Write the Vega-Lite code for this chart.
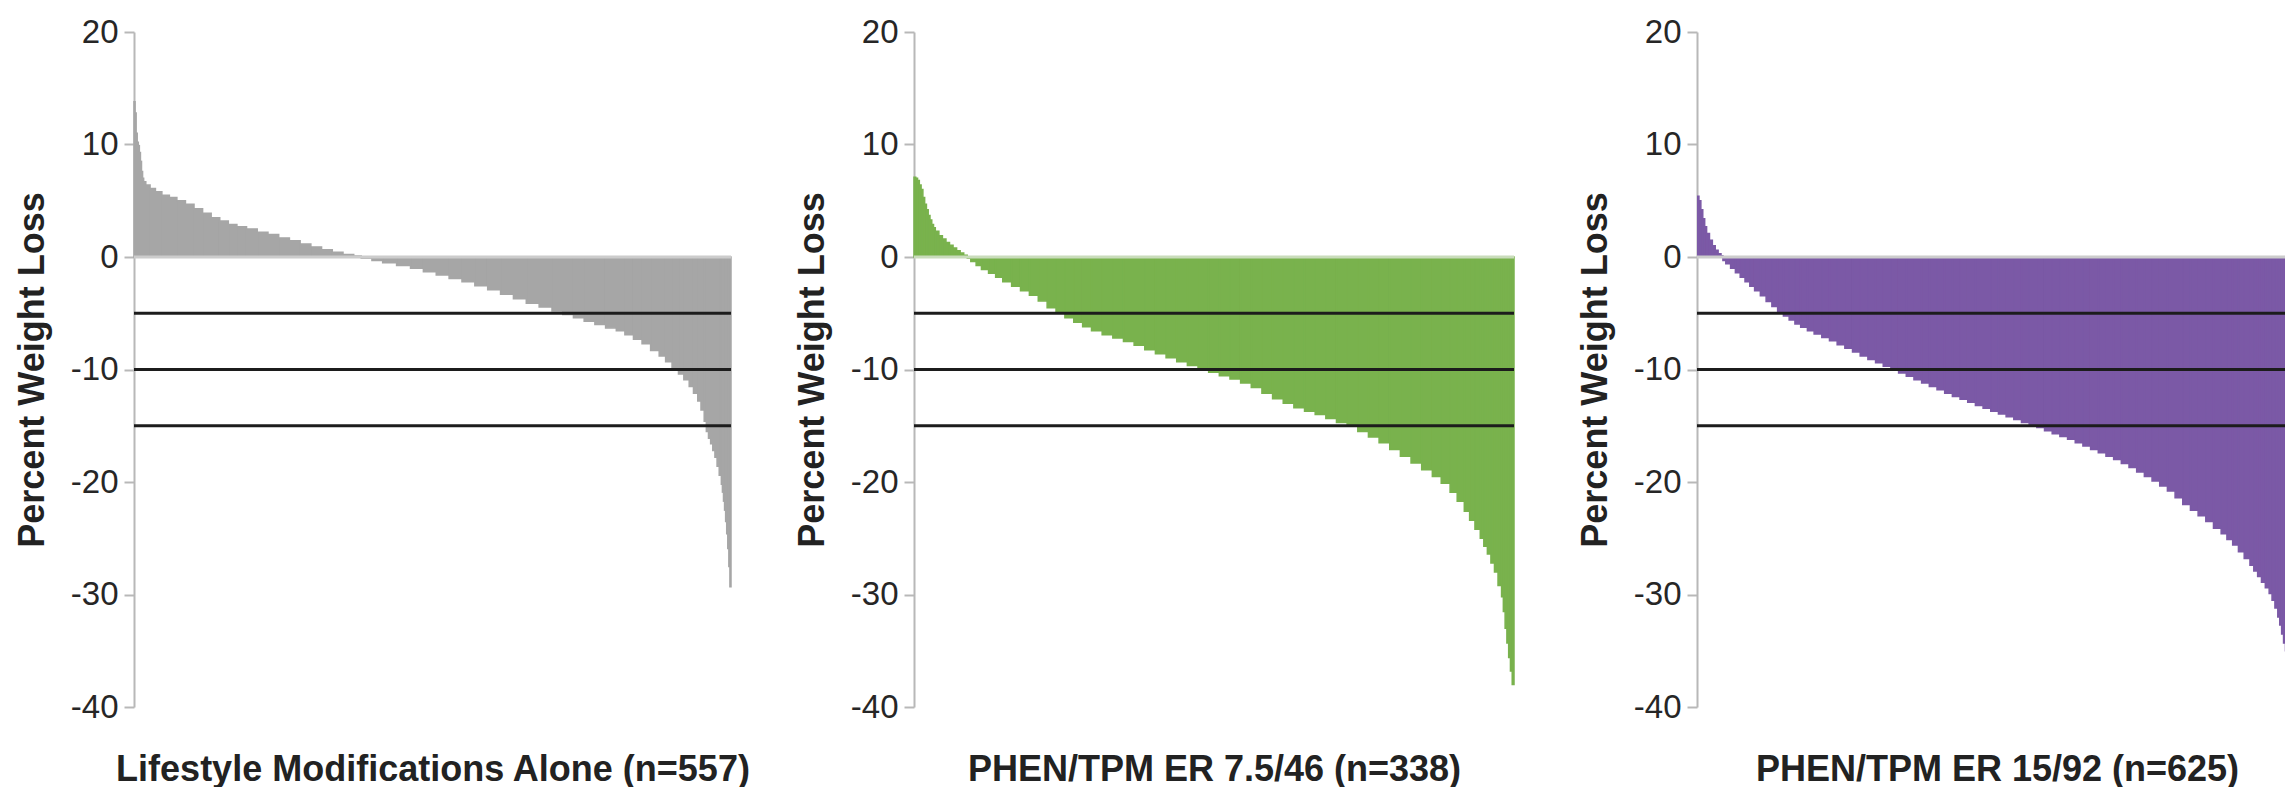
{
  "$schema": "https://vega.github.io/schema/vega-lite/v6.json",
  "background": "white",
  "padding": {"left": 14, "top": 16, "right": 0, "bottom": 0},
  "bounds": "flush",
  "spacing": 183,
  "config": {
    "view": {"stroke": null},
    "font": "Liberation Sans",
    "axisY": {
      "grid": false,
      "labelExpr": "'' + datum.value",
      "domainColor": "#b8b8b8",
      "domainWidth": 2,
      "tickColor": "#b8b8b8",
      "tickWidth": 2,
      "tickSize": 10,
      "labelFont": "Liberation Sans",
      "labelFontSize": 33,
      "labelColor": "#262626",
      "labelPadding": 6,
      "titleFont": "Liberation Sans",
      "titleFontSize": 36,
      "titleFontWeight": "bold",
      "titleColor": "#222222",
      "titlePadding": 19
    },
    "axisX": {
      "grid": false,
      "domain": false,
      "ticks": false,
      "labels": false,
      "titleFont": "Liberation Sans",
      "titleFontSize": 36,
      "titleFontWeight": "bold",
      "titleColor": "#222222",
      "titlePadding": 45
    }
  },
  "datasets": {
    "lifestyle": [
      {"a":0,"b":1,"v":13.8},{"a":1,"b":2,"v":12.8},{"a":2,"b":3,"v":11},{"a":3,"b":4,"v":10.2},{"a":4,"b":5,"v":9.9},
      {"a":5,"b":6,"v":9.3},{"a":6,"b":7,"v":8.5},{"a":7,"b":8,"v":7.6},{"a":8,"b":9,"v":7.0},{"a":9,"b":11,"v":6.7},
      {"a":11,"b":15,"v":6.4},{"a":15,"b":20,"v":6.1},{"a":20,"b":26,"v":5.8},{"a":26,"b":33,"v":5.5},{"a":33,"b":40,"v":5.3},
      {"a":40,"b":48,"v":5.0},{"a":48,"b":56,"v":4.7},{"a":56,"b":64,"v":4.3},{"a":64,"b":72,"v":3.9},{"a":72,"b":80,"v":3.5},
      {"a":80,"b":88,"v":3.2},{"a":88,"b":96,"v":2.9},{"a":96,"b":105,"v":2.7},{"a":105,"b":115,"v":2.5},{"a":115,"b":125,"v":2.2},
      {"a":125,"b":135,"v":2.0},{"a":135,"b":145,"v":1.7},{"a":145,"b":155,"v":1.45},{"a":155,"b":165,"v":1.15},{"a":165,"b":175,"v":0.9},
      {"a":175,"b":185,"v":0.65},{"a":185,"b":195,"v":0.42},{"a":195,"b":205,"v":0.22},{"a":205,"b":212,"v":0.08},{"a":212,"b":222,"v":-0.1},
      {"a":222,"b":232,"v":-0.3},{"a":232,"b":245,"v":-0.5},{"a":245,"b":258,"v":-0.75},{"a":258,"b":270,"v":-1.0},{"a":270,"b":282,"v":-1.3},
      {"a":282,"b":294,"v":-1.6},{"a":294,"b":306,"v":-1.9},{"a":306,"b":318,"v":-2.2},{"a":318,"b":330,"v":-2.55},{"a":330,"b":342,"v":-2.9},
      {"a":342,"b":354,"v":-3.3},{"a":354,"b":366,"v":-3.7},{"a":366,"b":378,"v":-4.1},{"a":378,"b":390,"v":-4.45},{"a":390,"b":400,"v":-4.8},
      {"a":400,"b":410,"v":-5.1},{"a":410,"b":420,"v":-5.4},{"a":420,"b":430,"v":-5.7},{"a":430,"b":440,"v":-6.0},{"a":440,"b":450,"v":-6.3},
      {"a":450,"b":458,"v":-6.55},{"a":458,"b":466,"v":-6.9},{"a":466,"b":474,"v":-7.3},{"a":474,"b":482,"v":-7.7},{"a":482,"b":490,"v":-8.3},
      {"a":490,"b":496,"v":-8.8},{"a":496,"b":502,"v":-9.3},{"a":502,"b":508,"v":-9.9},{"a":508,"b":513,"v":-10.4},{"a":513,"b":518,"v":-10.9},
      {"a":518,"b":522,"v":-11.5},{"a":522,"b":526,"v":-12.1},{"a":526,"b":529,"v":-12.8},{"a":529,"b":532,"v":-13.6},{"a":532,"b":534,"v":-14.6},
      {"a":534,"b":536,"v":-15.5},{"a":536,"b":538,"v":-16.1},{"a":538,"b":540,"v":-16.6},{"a":540,"b":542,"v":-17.2},{"a":542,"b":544,"v":-17.8},
      {"a":544,"b":546,"v":-18.6},{"a":546,"b":548,"v":-19.4},{"a":548,"b":549,"v":-20.2},{"a":549,"b":550,"v":-20.9},{"a":550,"b":551,"v":-21.7},
      {"a":551,"b":552,"v":-22.5},{"a":552,"b":553,"v":-23.5},{"a":553,"b":554,"v":-24.6},{"a":554,"b":555,"v":-25.9},{"a":555,"b":556,"v":-27.5},
      {"a":556,"b":557,"v":-29.3}
    ],
    "low": [
      {"a":0,"b":1,"v":7.1},{"a":1,"b":2,"v":7.0},{"a":2,"b":3,"v":6.8},{"a":3,"b":4,"v":6.4},{"a":4,"b":5,"v":6.0},
      {"a":5,"b":6,"v":5.3},{"a":6,"b":7,"v":4.7},{"a":7,"b":8,"v":4.2},{"a":8,"b":9,"v":3.7},{"a":9,"b":10,"v":3.3},
      {"a":10,"b":11,"v":2.9},{"a":11,"b":12,"v":2.6},{"a":12,"b":14,"v":2.3},{"a":14,"b":16,"v":1.9},{"a":16,"b":18,"v":1.6},
      {"a":18,"b":20,"v":1.3},{"a":20,"b":22,"v":1.05},{"a":22,"b":24,"v":0.8},{"a":24,"b":26,"v":0.55},{"a":26,"b":28,"v":0.35},
      {"a":28,"b":30,"v":0.15},{"a":30,"b":32,"v":-0.1},{"a":32,"b":35,"v":-0.4},{"a":35,"b":38,"v":-0.75},{"a":38,"b":42,"v":-1.1},
      {"a":42,"b":46,"v":-1.45},{"a":46,"b":50,"v":-1.8},{"a":50,"b":55,"v":-2.2},{"a":55,"b":60,"v":-2.6},{"a":60,"b":65,"v":-3.0},
      {"a":65,"b":70,"v":-3.4},{"a":70,"b":75,"v":-3.9},{"a":75,"b":80,"v":-4.5},{"a":80,"b":85,"v":-4.95},{"a":85,"b":90,"v":-5.4},
      {"a":90,"b":95,"v":-5.8},{"a":95,"b":100,"v":-6.2},{"a":100,"b":106,"v":-6.55},{"a":106,"b":112,"v":-6.9},{"a":112,"b":118,"v":-7.2},
      {"a":118,"b":124,"v":-7.5},{"a":124,"b":130,"v":-7.85},{"a":130,"b":136,"v":-8.25},{"a":136,"b":142,"v":-8.6},{"a":142,"b":148,"v":-8.95},
      {"a":148,"b":154,"v":-9.3},{"a":154,"b":160,"v":-9.65},{"a":160,"b":166,"v":-9.95},{"a":166,"b":172,"v":-10.25},{"a":172,"b":178,"v":-10.55},
      {"a":178,"b":184,"v":-10.85},{"a":184,"b":190,"v":-11.2},{"a":190,"b":196,"v":-11.6},{"a":196,"b":202,"v":-12.1},{"a":202,"b":208,"v":-12.6},
      {"a":208,"b":214,"v":-13.0},{"a":214,"b":220,"v":-13.4},{"a":220,"b":226,"v":-13.7},{"a":226,"b":232,"v":-14.0},{"a":232,"b":238,"v":-14.35},
      {"a":238,"b":244,"v":-14.7},{"a":244,"b":250,"v":-15.05},{"a":250,"b":256,"v":-15.5},{"a":256,"b":262,"v":-16.0},{"a":262,"b":268,"v":-16.5},
      {"a":268,"b":274,"v":-17.1},{"a":274,"b":280,"v":-17.7},{"a":280,"b":286,"v":-18.3},{"a":286,"b":292,"v":-18.9},{"a":292,"b":297,"v":-19.5},
      {"a":297,"b":302,"v":-20.1},{"a":302,"b":306,"v":-20.9},{"a":306,"b":310,"v":-21.7},{"a":310,"b":313,"v":-22.6},{"a":313,"b":316,"v":-23.4},
      {"a":316,"b":319,"v":-24.2},{"a":319,"b":321,"v":-25.0},{"a":321,"b":323,"v":-25.7},{"a":323,"b":325,"v":-26.4},{"a":325,"b":327,"v":-27.2},
      {"a":327,"b":329,"v":-28.0},{"a":329,"b":331,"v":-29.2},{"a":331,"b":332,"v":-30.2},{"a":332,"b":333,"v":-31.5},{"a":333,"b":334,"v":-33.0},
      {"a":334,"b":335,"v":-34.3},{"a":335,"b":336,"v":-35.6},{"a":336,"b":337,"v":-36.8},{"a":337,"b":338,"v":-38.0}
    ],
    "high": [
      {"a":0,"b":2,"v":5.4},{"a":2,"b":4,"v":5.0},{"a":4,"b":6,"v":4.2},{"a":6,"b":8,"v":3.4},{"a":8,"b":10,"v":2.7},
      {"a":10,"b":13,"v":2.1},{"a":13,"b":16,"v":1.5},{"a":16,"b":19,"v":1.0},{"a":19,"b":22,"v":0.6},{"a":22,"b":25,"v":0.3},
      {"a":25,"b":27,"v":0.1},{"a":27,"b":30,"v":-0.3},{"a":30,"b":35,"v":-0.6},{"a":35,"b":40,"v":-1.0},{"a":40,"b":45,"v":-1.4},
      {"a":45,"b":50,"v":-1.8},{"a":50,"b":55,"v":-2.2},{"a":55,"b":60,"v":-2.6},{"a":60,"b":66,"v":-3.0},{"a":66,"b":72,"v":-3.45},
      {"a":72,"b":78,"v":-3.95},{"a":78,"b":84,"v":-4.4},{"a":84,"b":90,"v":-4.85},{"a":90,"b":96,"v":-5.25},{"a":96,"b":102,"v":-5.6},
      {"a":102,"b":108,"v":-5.95},{"a":108,"b":115,"v":-6.25},{"a":115,"b":122,"v":-6.55},{"a":122,"b":130,"v":-6.85},{"a":130,"b":138,"v":-7.15},
      {"a":138,"b":146,"v":-7.45},{"a":146,"b":154,"v":-7.8},{"a":154,"b":162,"v":-8.1},{"a":162,"b":170,"v":-8.45},{"a":170,"b":178,"v":-8.8},
      {"a":178,"b":186,"v":-9.1},{"a":186,"b":194,"v":-9.4},{"a":194,"b":202,"v":-9.7},{"a":202,"b":210,"v":-10.0},{"a":210,"b":218,"v":-10.3},
      {"a":218,"b":226,"v":-10.6},{"a":226,"b":234,"v":-10.9},{"a":234,"b":242,"v":-11.2},{"a":242,"b":250,"v":-11.5},{"a":250,"b":258,"v":-11.8},
      {"a":258,"b":266,"v":-12.1},{"a":266,"b":274,"v":-12.4},{"a":274,"b":282,"v":-12.65},{"a":282,"b":290,"v":-12.9},{"a":290,"b":298,"v":-13.2},
      {"a":298,"b":306,"v":-13.45},{"a":306,"b":314,"v":-13.7},{"a":314,"b":322,"v":-13.95},{"a":322,"b":330,"v":-14.2},{"a":330,"b":338,"v":-14.45},
      {"a":338,"b":346,"v":-14.7},{"a":346,"b":354,"v":-14.9},{"a":354,"b":362,"v":-15.15},{"a":362,"b":370,"v":-15.45},{"a":370,"b":378,"v":-15.7},
      {"a":378,"b":386,"v":-15.95},{"a":386,"b":394,"v":-16.2},{"a":394,"b":402,"v":-16.5},{"a":402,"b":410,"v":-16.8},{"a":410,"b":418,"v":-17.1},
      {"a":418,"b":426,"v":-17.4},{"a":426,"b":434,"v":-17.7},{"a":434,"b":442,"v":-18.0},{"a":442,"b":450,"v":-18.35},{"a":450,"b":458,"v":-18.7},
      {"a":458,"b":466,"v":-19.1},{"a":466,"b":474,"v":-19.5},{"a":474,"b":482,"v":-19.9},{"a":482,"b":490,"v":-20.35},{"a":490,"b":498,"v":-20.8},
      {"a":498,"b":506,"v":-21.4},{"a":506,"b":514,"v":-22.0},{"a":514,"b":522,"v":-22.5},{"a":522,"b":530,"v":-23.0},{"a":530,"b":538,"v":-23.5},
      {"a":538,"b":546,"v":-24.1},{"a":546,"b":552,"v":-24.6},{"a":552,"b":558,"v":-25.1},{"a":558,"b":564,"v":-25.6},{"a":564,"b":570,"v":-26.2},
      {"a":570,"b":576,"v":-26.8},{"a":576,"b":580,"v":-27.4},{"a":580,"b":584,"v":-27.9},{"a":584,"b":588,"v":-28.4},{"a":588,"b":592,"v":-28.9},
      {"a":592,"b":596,"v":-29.4},{"a":596,"b":599,"v":-29.9},{"a":599,"b":602,"v":-30.5},{"a":602,"b":605,"v":-31.2},{"a":605,"b":607,"v":-32.0},
      {"a":607,"b":609,"v":-32.7},{"a":609,"b":611,"v":-33.5},{"a":611,"b":613,"v":-34.3},{"a":613,"b":615,"v":-35.0},{"a":615,"b":617,"v":-35.8},
      {"a":617,"b":619,"v":-36.7},{"a":619,"b":621,"v":-37.6},{"a":621,"b":623,"v":-38.6},{"a":623,"b":625,"v":-39.8}
    ],
    "thresholds": [{"t": -5}, {"t": -10}, {"t": -15}],
    "zero": [{"t": 0}]
  },
  "hconcat": [
    {
      "width": 597,
      "height": 675,
      "layer": [
        {
          "data": {"name": "lifestyle"},
          "mark": {"type": "bar", "color": "#a6a6a6", "stroke": "#a6a6a6", "strokeWidth": 1.5},
          "encoding": {
            "x": {"field": "a", "type": "quantitative", "scale": {"domain": [0, 557], "nice": false, "zero": false},
                  "axis": {"title": "Lifestyle Modifications Alone (n=557)"}},
            "x2": {"field": "b"},
            "y": {"field": "v", "type": "quantitative", "scale": {"domain": [-40, 20], "nice": false},
                  "axis": {"title": "Percent Weight Loss", "values": [20, 10, 0, -10, -20, -30, -40]}},
            "y2": {"datum": 0}
          }
        },
        {
          "data": {"name": "zero"},
          "mark": {"type": "rule", "color": "#cccccc", "strokeWidth": 3},
          "encoding": {"y": {"field": "t", "type": "quantitative"}}
        },
        {
          "data": {"name": "thresholds"},
          "mark": {"type": "rule", "color": "#1c1c1c", "strokeWidth": 3},
          "encoding": {"y": {"field": "t", "type": "quantitative"}}
        }
      ]
    },
    {
      "width": 600,
      "height": 675,
      "layer": [
        {
          "data": {"name": "low"},
          "mark": {"type": "bar", "color": "#79b24d", "stroke": "#79b24d", "strokeWidth": 1.5},
          "encoding": {
            "x": {"field": "a", "type": "quantitative", "scale": {"domain": [0, 338], "nice": false, "zero": false},
                  "axis": {"title": "PHEN/TPM ER 7.5/46 (n=338)"}},
            "x2": {"field": "b"},
            "y": {"field": "v", "type": "quantitative", "scale": {"domain": [-40, 20], "nice": false},
                  "axis": {"title": "Percent Weight Loss", "values": [20, 10, 0, -10, -20, -30, -40]}},
            "y2": {"datum": 0}
          }
        },
        {
          "data": {"name": "zero"},
          "mark": {"type": "rule", "color": "#c9dcbb", "strokeWidth": 3},
          "encoding": {"y": {"field": "t", "type": "quantitative"}}
        },
        {
          "data": {"name": "thresholds"},
          "mark": {"type": "rule", "color": "#1c1c1c", "strokeWidth": 3},
          "encoding": {"y": {"field": "t", "type": "quantitative"}}
        }
      ]
    },
    {
      "width": 588,
      "height": 675,
      "layer": [
        {
          "data": {"name": "high"},
          "mark": {"type": "bar", "color": "#7b59a6", "stroke": "#7b59a6", "strokeWidth": 1.5, "clip": true},
          "encoding": {
            "x": {"field": "a", "type": "quantitative", "scale": {"domain": [0, 612.5], "nice": false, "zero": false},
                  "axis": {"title": "PHEN/TPM ER 15/92 (n=625)", "titleX": 300}},
            "x2": {"field": "b"},
            "y": {"field": "v", "type": "quantitative", "scale": {"domain": [-40, 20], "nice": false},
                  "axis": {"title": "Percent Weight Loss", "values": [20, 10, 0, -10, -20, -30, -40]}},
            "y2": {"datum": 0}
          }
        },
        {
          "data": {"name": "zero"},
          "mark": {"type": "rule", "color": "#cccccc", "strokeWidth": 3},
          "encoding": {"y": {"field": "t", "type": "quantitative"}}
        },
        {
          "data": {"name": "thresholds"},
          "mark": {"type": "rule", "color": "#1c1c1c", "strokeWidth": 3},
          "encoding": {"y": {"field": "t", "type": "quantitative"}}
        }
      ]
    }
  ]
}
